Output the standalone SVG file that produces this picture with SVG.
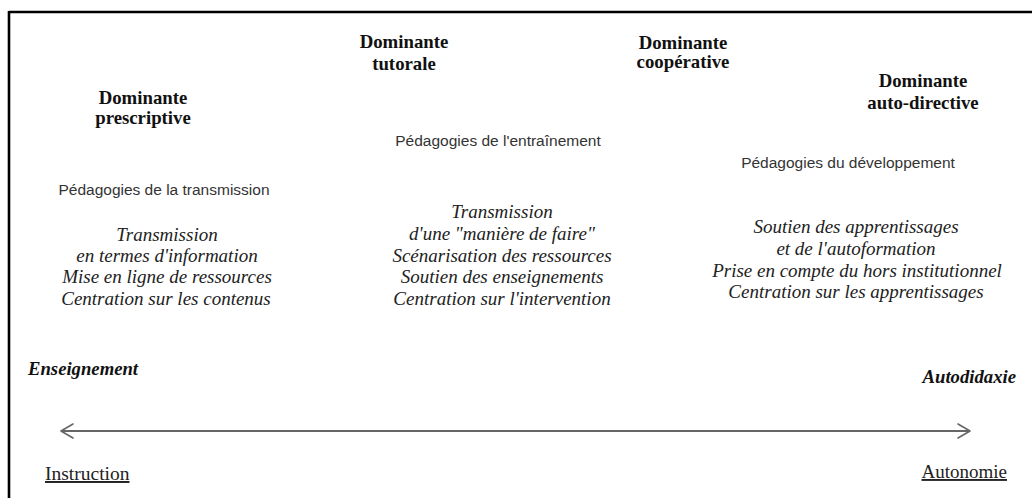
<svg xmlns="http://www.w3.org/2000/svg" width="1032" height="498" viewBox="0 0 1032 498">
<style>
.hd{font-family:"Liberation Serif","Times New Roman",serif;font-weight:bold;font-size:18.8px;fill:#111;text-anchor:middle}
.sa{font-family:"Liberation Sans",Arial,sans-serif;font-size:15.5px;fill:#333;text-anchor:middle}
.it{font-family:"Liberation Serif","Times New Roman",serif;font-style:italic;font-size:19px;fill:#222;text-anchor:middle}
.bi{font-family:"Liberation Serif","Times New Roman",serif;font-style:italic;font-weight:bold;font-size:18.7px;fill:#111}
.ul{font-family:"Liberation Serif","Times New Roman",serif;font-size:19.5px;fill:#222;text-decoration:underline}
.ax{stroke:#666;stroke-width:2;fill:none}
.hd2{stroke:#666;stroke-width:1.6;fill:none;stroke-linecap:round;stroke-linejoin:round}
</style>
<rect width="1032" height="498" fill="#fff"/>
<g id="frame">
<line x1="9" y1="12" x2="1032" y2="12" stroke="#000" stroke-width="2.6"/>
<line x1="9" y1="11" x2="9" y2="498" stroke="#000" stroke-width="2.6"/>
</g>
<g id="prescriptive">
<text class="hd" x="143" y="104">Dominante</text>
<text class="hd" x="143" y="124">prescriptive</text>
<text class="sa" x="164" y="195">Pédagogies de la transmission</text>
<text class="it" x="167" y="241">Transmission</text>
<text class="it" x="167" y="262">en termes d'information</text>
<text class="it" x="167" y="283">Mise en ligne de ressources</text>
<text class="it" x="166" y="305">Centration sur les contenus</text>
</g>
<g id="tutorale">
<text class="hd" x="404" y="48">Dominante</text>
<text class="hd" x="404" y="70">tutorale</text>
<text class="sa" x="498" y="146">Pédagogies de l'entraînement</text>
<text class="it" x="502" y="218">Transmission</text>
<text class="it" x="502" y="240">d'une "manière de faire"</text>
<text class="it" x="502" y="262">Scénarisation des ressources</text>
<text class="it" x="502" y="283">Soutien des enseignements</text>
<text class="it" x="502" y="305">Centration sur l'intervention</text>
</g>
<g id="cooperative">
<text class="hd" x="683" y="49">Dominante</text>
<text class="hd" x="683" y="68">coopérative</text>
</g>
<g id="autodirective">
<text class="hd" x="923" y="87">Dominante</text>
<text class="hd" x="923" y="109">auto-directive</text>
<text class="sa" x="848" y="168">Pédagogies du développement</text>
<text class="it" x="856" y="233">Soutien des apprentissages</text>
<text class="it" x="856" y="255">et de l'autoformation</text>
<text class="it" x="857" y="277">Prise en compte du hors institutionnel</text>
<text class="it" x="856" y="298">Centration sur les apprentissages</text>
</g>
<g id="enseignement">
<text class="bi" x="28" y="375">Enseignement</text>
</g>
<g id="autodidaxie">
<text class="bi" x="1016" y="383" text-anchor="end">Autodidaxie</text>
</g>
<g id="instruction">
<text class="ul" x="45" y="480">Instruction</text>
</g>
<g id="autonomie">
<text class="ul" x="1007" y="478" text-anchor="end" style="font-size:19px">Autonomie</text>
</g>
<g id="connectors">
<line class="ax" x1="61" y1="431" x2="970" y2="431"/>
<polyline class="hd2" points="73,424 61,431 73,438"/>
<polyline class="hd2" points="958,424 970,431 958,438"/>
</g>
</svg>
